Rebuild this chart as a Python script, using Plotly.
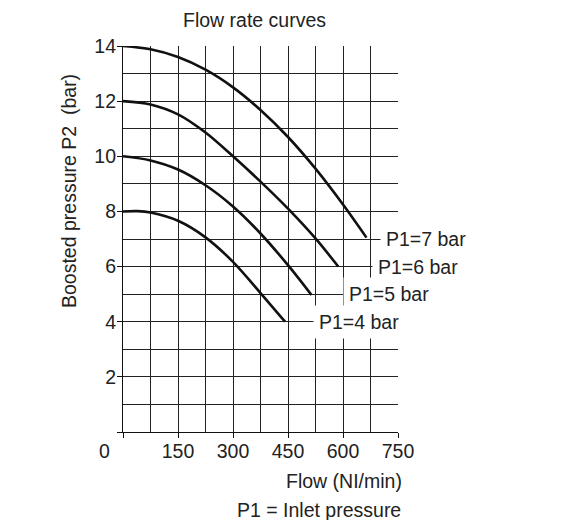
import plotly.graph_objects as go

# Data
flow_p7 = [0, 75, 150, 225, 300, 375, 450, 525, 600, 664]
p2_p7 = [14.0, 13.88, 13.6, 13.14, 12.5, 11.68, 10.7, 9.55, 8.25, 7.05]

flow_p6 = [0, 75, 150, 225, 300, 375, 450, 525, 587]
p2_p6 = [12.0, 11.88, 11.52, 10.86, 10.0, 9.08, 8.1, 7.02, 6.0]

flow_p5 = [0, 75, 150, 225, 300, 375, 450, 514]
p2_p5 = [10.0, 9.85, 9.52, 8.95, 8.18, 7.2, 6.05, 4.97]

flow_p4 = [0, 40, 75, 150, 225, 300, 375, 442]
p2_p4 = [8.0, 8.01, 7.96, 7.66, 7.06, 6.17, 5.04, 4.0]

series_names = ["P1=7 bar", "P1=6 bar", "P1=5 bar", "P1=4 bar"]
label_x = [700, 679, 600, 518]
label_y = [7, 6, 5, 4]

x_tickvals = [0, 150, 300, 450, 600, 750]
x_ticktext = ["", "150", "300", "450", "600", "750"]
y_tickvals = [0, 2, 4, 6, 8, 10, 12, 14]
y_ticktext = ["", "2", "4", "6", "8", "10", "12", "14"]

FONT = "Arial, 'Liberation Sans', sans-serif"
TXT = "#222222"
FS = 19.5

fig = go.Figure()
for xs, ys, name in zip([flow_p7, flow_p6, flow_p5, flow_p4],
                        [p2_p7, p2_p6, p2_p5, p2_p4], series_names):
    fig.add_trace(go.Scatter(x=xs, y=ys, mode="lines", name=name,
                             line=dict(color="#111111", width=2.6, shape="spline", smoothing=0.9),
                             showlegend=False, hoverinfo="skip"))

for name, lx, ly in zip(series_names, label_x, label_y):
    fig.add_annotation(x=lx, y=ly, xref="x", yref="y", text=name, showarrow=False,
                       xanchor="left", yanchor="middle", bgcolor="white", borderpad=5,
                       font=dict(family=FONT, size=FS, color=TXT))

L, R, T, B = 123, 167, 46, 88
PW, PH = 565 - L - R, 520 - T - B

def px(xp):
    return (xp - L) / PW

def py(yp):
    return (520 - B - yp) / PH

fig.add_annotation(x=px(254), y=py(20), xref="paper", yref="paper", text="Flow rate curves",
                   showarrow=False, xanchor="center", yanchor="middle",
                   font=dict(family=FONT, size=FS, color=TXT))
fig.add_annotation(x=px(69), y=py(191), xref="paper", yref="paper",
                   text="Boosted pressure P2\u00a0 (bar)", textangle=-90,
                   showarrow=False, xanchor="center", yanchor="middle",
                   font=dict(family=FONT, size=FS, color=TXT))
fig.add_annotation(x=px(344), y=py(481), xref="paper", yref="paper", text="Flow (NI/min)",
                   showarrow=False, xanchor="center", yanchor="middle",
                   font=dict(family=FONT, size=FS, color=TXT))
fig.add_annotation(x=px(319), y=py(510), xref="paper", yref="paper", text="P1 = Inlet pressure",
                   showarrow=False, xanchor="center", yanchor="middle",
                   font=dict(family=FONT, size=FS, color=TXT))
fig.add_annotation(x=px(104), y=py(451), xref="paper", yref="paper", text="0",
                   showarrow=False, xanchor="center", yanchor="middle",
                   font=dict(family=FONT, size=FS, color=TXT))

fig.update_layout(
    width=565, height=520,
    margin=dict(l=L, r=R, t=T, b=B, pad=0),
    paper_bgcolor="white", plot_bgcolor="white",
    font=dict(family=FONT, size=FS, color=TXT),
    xaxis=dict(range=[0, 750], tickmode="array", tickvals=x_tickvals, ticktext=x_ticktext,
               showgrid=True, gridcolor="#222222", gridwidth=1,
               minor=dict(dtick=75, tick0=0, showgrid=True, gridcolor="#222222", gridwidth=1, ticks=""),
               showline=True, linecolor="#111111", linewidth=1.2,
               ticks="outside", ticklen=5, tickcolor="#111111", tickwidth=1.2,
               ticklabelstandoff=-4,
               zeroline=False, fixedrange=True,
               tickfont=dict(family=FONT, size=FS, color=TXT)),
    yaxis=dict(range=[0, 14], tickmode="array", tickvals=y_tickvals, ticktext=y_ticktext,
               showgrid=True, gridcolor="#222222", gridwidth=1,
               minor=dict(dtick=1, tick0=0, showgrid=True, gridcolor="#222222", gridwidth=1, ticks=""),
               showline=True, linecolor="#111111", linewidth=1.2,
               ticks="outside", ticklen=5, tickcolor="#111111", tickwidth=1.2,
               ticklabelstandoff=-3,
               zeroline=False, fixedrange=True,
               tickfont=dict(family=FONT, size=FS, color=TXT)),
)

fig.write_html("out.html", config={"displayModeBar": False},
               post_script="document.body.style.margin='0';document.body.style.overflow='hidden';")
